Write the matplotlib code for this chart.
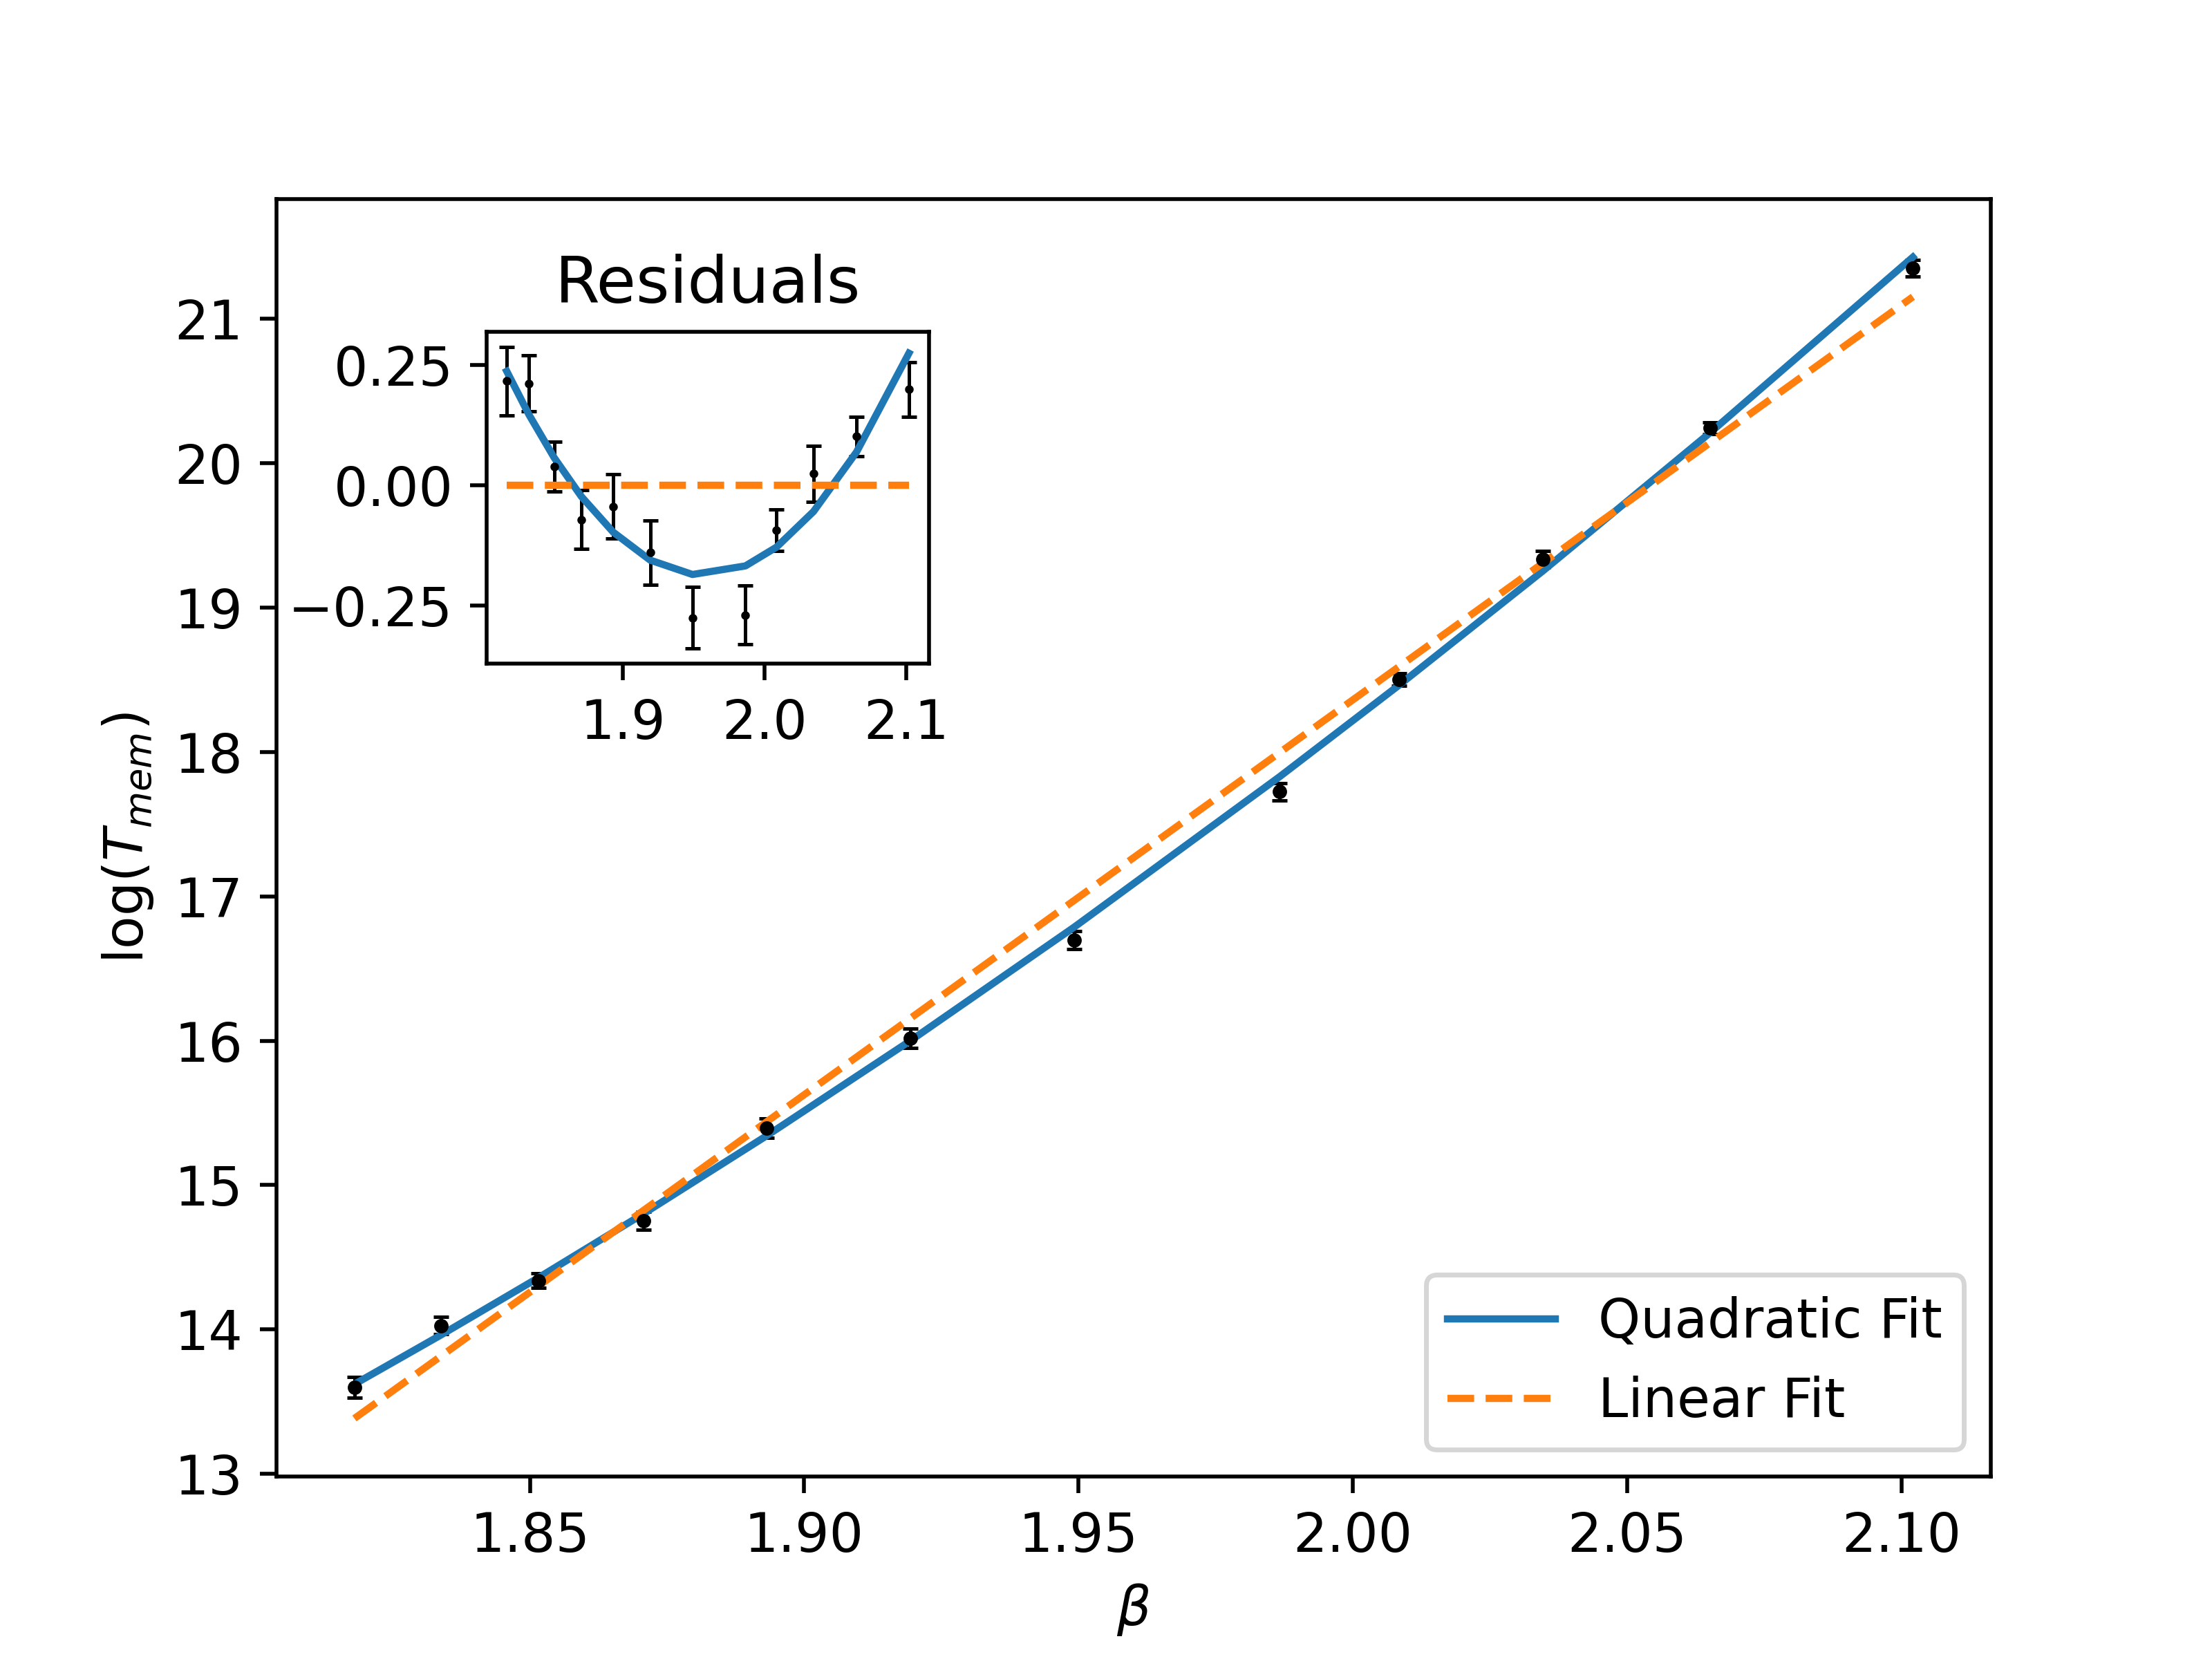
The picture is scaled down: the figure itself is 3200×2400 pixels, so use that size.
import numpy as np
import matplotlib.pyplot as plt

plt.rcParams['font.size'] = 11.2

beta = np.array([1.8180, 1.8338, 1.8515, 1.8707, 1.8932, 1.9193,
                 1.9492, 1.9866, 2.0085, 2.0347, 2.0651, 2.1021])
logT = np.array([13.601, 14.028, 14.339, 14.754, 15.397, 16.015,
                 16.697, 17.725, 18.500, 19.334, 20.243, 21.352])
logT_err = np.array([0.071, 0.058, 0.052, 0.061, 0.067, 0.067,
                     0.064, 0.061, 0.043, 0.058, 0.041, 0.057])

# weighted fits
w = 1 / logT_err
p_lin = np.polyfit(beta, logT, 1, w=w)
p_quad = np.polyfit(beta, logT, 2, w=w)
lin_fit = np.polyval(p_lin, beta)
quad_fit = np.polyval(p_quad, beta)
residuals = logT - lin_fit

fig, ax = plt.subplots(figsize=(6.4, 4.8), dpi=500)
ax.errorbar(beta, logT, yerr=logT_err, fmt='k.', markersize=4,
            capsize=1.6, elinewidth=0.72, capthick=0.72)
ax.plot(beta, quad_fit, '-', color='C0', label='Quadratic Fit')
ax.plot(beta, lin_fit, '--', color='C1', label='Linear Fit')
ax.set_xlabel(r'$\beta$')
ax.set_ylabel(r'log($T_{mem}$)')
ax.set_yticks(range(13, 22))
ax.legend(loc='lower right')

# inset with residuals of the linear fit
ax2 = fig.add_axes([0.22, 0.6, 0.2, 0.2])
ax2.errorbar(beta, residuals, yerr=logT_err, fmt='k.', markersize=1.6,
             capsize=1.6, elinewidth=0.72, capthick=0.72)
ax2.plot(beta, quad_fit - lin_fit, '-', color='C0')
ax2.plot(beta, np.zeros_like(beta), '--', color='C1')
ax2.set_xticks([1.9, 2.0, 2.1])
ax2.set_yticks([-0.25, 0.0, 0.25])
ax2.set_title('Residuals')

fig.savefig('out.png', dpi=500)
